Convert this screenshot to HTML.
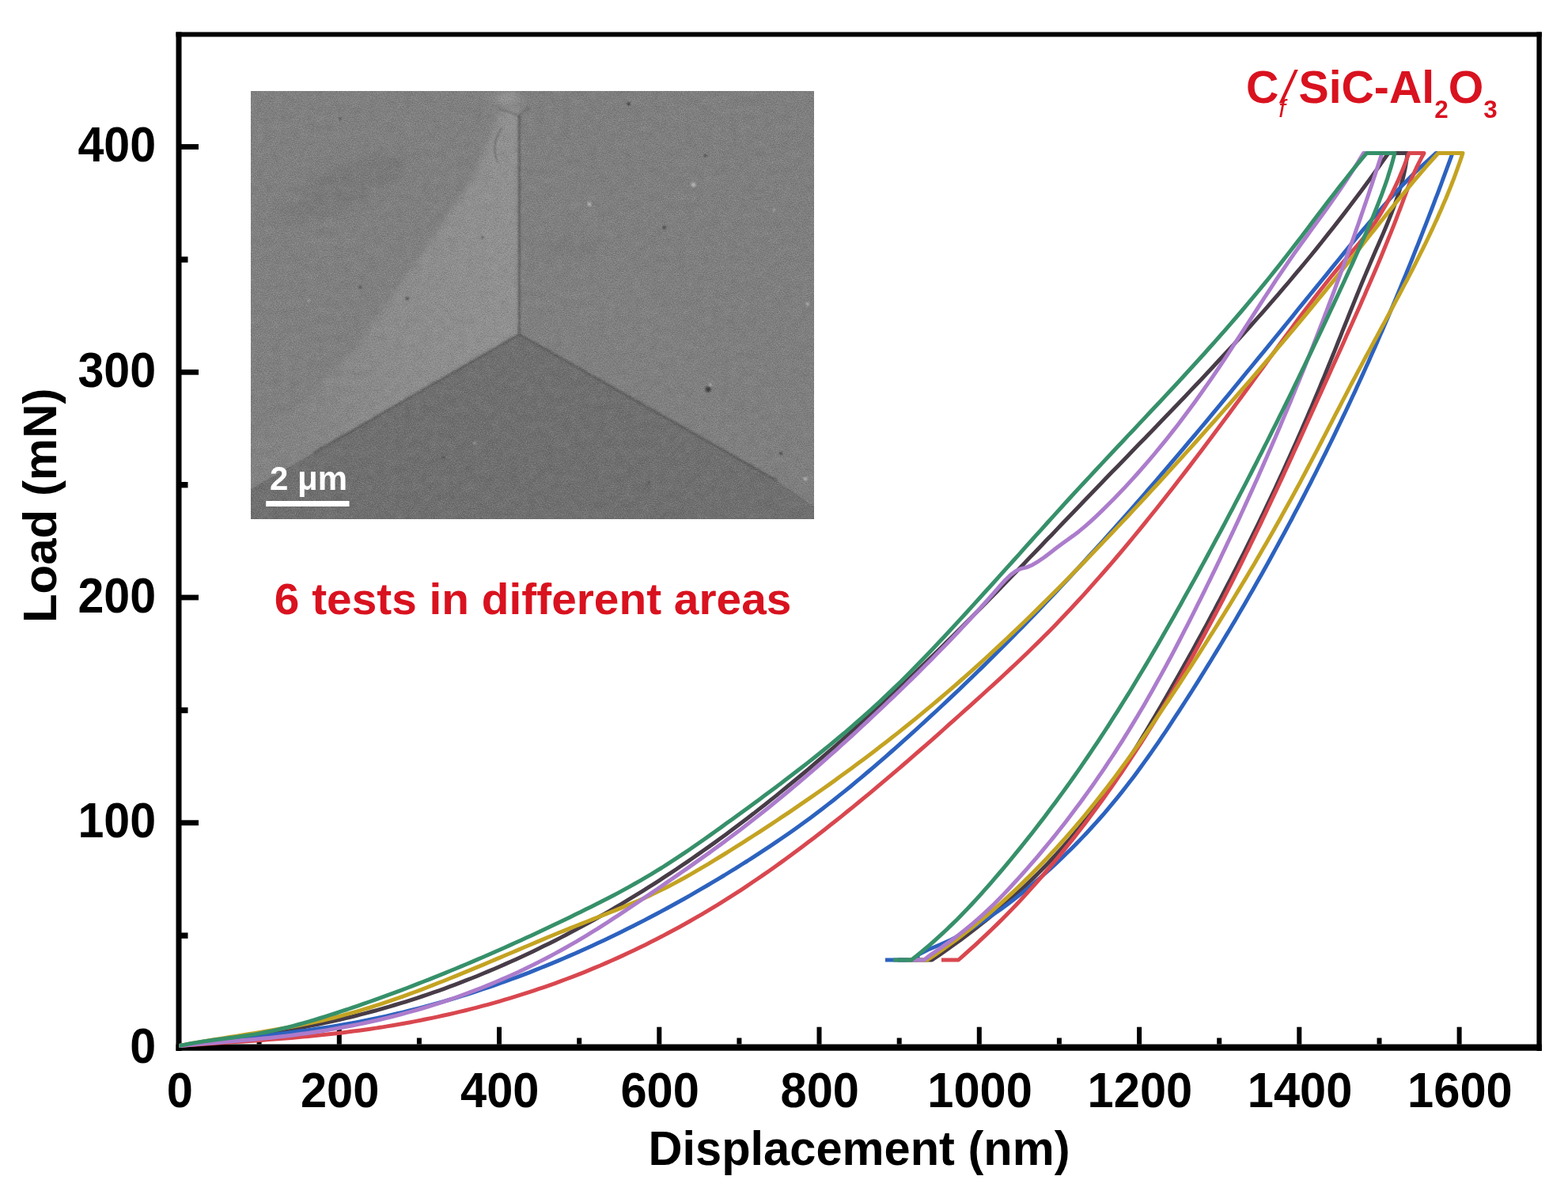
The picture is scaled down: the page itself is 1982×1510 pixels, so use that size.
<!DOCTYPE html>
<html><head><meta charset="utf-8"><title>Load-displacement curves</title>
<style>html,body{margin:0;padding:0;background:#fff;width:1982px;height:1510px;overflow:hidden}svg{display:block}</style>
</head><body>
<svg xmlns="http://www.w3.org/2000/svg" width="1982" height="1510" viewBox="0 0 1982 1510">
<rect width="100%" height="100%" fill="#fff"/>
<defs>
<filter id="noise" x="0" y="0" width="100%" height="100%"><feTurbulence type="fractalNoise" baseFrequency="0.75" numOctaves="2" seed="7" result="n"/><feColorMatrix in="n" type="matrix" values="0 0 0 0 0  0 0 0 0 0  0 0 0 0 0  -2.2 0 0 0 1.1" result="dk"/><feColorMatrix in="n" type="matrix" values="0 0 0 0 1  0 0 0 0 1  0 0 0 0 1  2.2 0 0 0 -1.1" result="lt"/><feMerge><feMergeNode in="dk"/><feMergeNode in="lt"/></feMerge></filter>
<filter id="mottle" x="0" y="0" width="100%" height="100%"><feTurbulence type="fractalNoise" baseFrequency="0.09" numOctaves="3" seed="11" result="n"/><feColorMatrix in="n" type="matrix" values="0 0 0 0 0  0 0 0 0 0  0 0 0 0 0  -2.5 0 0 0 1.25" result="dk"/><feColorMatrix in="n" type="matrix" values="0 0 0 0 1  0 0 0 0 1  0 0 0 0 1  2.5 0 0 0 -1.25" result="lt"/><feMerge><feMergeNode in="dk"/><feMergeNode in="lt"/></feMerge></filter>
<filter id="blur1"><feGaussianBlur stdDeviation="0.8"/></filter>
<filter id="blur6"><feGaussianBlur stdDeviation="6"/></filter>
<filter id="blur4" x="-5%" y="-5%" width="110%" height="110%"><feGaussianBlur stdDeviation="4"/></filter>
<clipPath id="lclip"><rect x="317" y="115" width="339.4" height="541"/></clipPath>
<linearGradient id="lf" gradientUnits="userSpaceOnUse" x1="656.4" y1="0" x2="360" y2="0"><stop offset="0" stop-color="#929292"/><stop offset="0.55" stop-color="#8c8c8c"/><stop offset="1" stop-color="#838383"/></linearGradient>
<clipPath id="ic"><rect x="317" y="115" width="712" height="541"/></clipPath>
</defs>
<g clip-path="url(#ic)">
<rect x="317" y="115" width="712" height="541" fill="#808080"/>
<g filter="url(#blur6)" opacity="0.55"><ellipse cx="450" cy="225" rx="70" ry="22" fill="#747474" transform="rotate(-18 450 225)"/><ellipse cx="400" cy="262" rx="60" ry="12" fill="#767676" transform="rotate(-10 400 262)"/><ellipse cx="720" cy="312" rx="40" ry="12" fill="#787878"/></g>
<polygon points="656.4,115 1029,115 1029,656 981.5,607.0" fill="#7f7f7f"/>
<polygon points="656.4,133 656.4,422.5 397.0,572.0 317,618 317,556 371,519 451,438 545,304 600,222 628,150 640,133" fill="url(#lf)" filter="url(#blur4)" clip-path="url(#lclip)"/>
<polygon points="656.4,422.5 397.0,572.0 317,618 317,656 1029,656 1029,640 981.5,607.0" fill="#6f6f6f"/>
<ellipse cx="640" cy="124" rx="18" ry="7" fill="#9a9a9a" filter="url(#blur6)"/>
<g filter="url(#blur1)" fill="none" stroke-linecap="round">
<line x1="656.4" y1="146" x2="656.4" y2="422.5" stroke="#5f5f5f" stroke-width="2.6"/>
<line x1="656.4" y1="422.5" x2="397.0" y2="572.0" stroke="#5c5c5c" stroke-width="2.4"/>
<line x1="656.4" y1="422.5" x2="981.5" y2="607.0" stroke="#5a5a5a" stroke-width="2.6"/>
<path d="M656.4,146 L630,137 M656.4,146 L668,136 M634,163 Q620,182 629,205" stroke="#666" stroke-width="1.6"/>
</g>
<g filter="url(#blur1)">
<circle cx="895" cy="492" r="3.4" fill="#3a3a3a"/>
<circle cx="514.6" cy="377.2" r="1.8" fill="#3a3a3a"/>
<circle cx="794.7" cy="131.2" r="2.0" fill="#3a3a3a"/>
<circle cx="839.6" cy="287.4" r="1.8" fill="#3a3a3a"/>
<circle cx="891.6" cy="196.5" r="1.6" fill="#3a3a3a"/>
<circle cx="455.3" cy="362.8" r="1.6" fill="#3a3a3a"/>
<circle cx="987" cy="573" r="1.8" fill="#3a3a3a"/>
<circle cx="430" cy="150" r="1.3" fill="#3a3a3a"/>
<circle cx="610" cy="300" r="1.2" fill="#3a3a3a"/>
<circle cx="560" cy="578" r="1.3" fill="#3a3a3a"/>
<circle cx="820" cy="610" r="1.2" fill="#3a3a3a"/>
<circle cx="898" cy="486" r="1.8" fill="#b4b4b4"/>
<circle cx="876.5" cy="233.5" r="3.0" fill="#b4b4b4"/>
<circle cx="745" cy="258" r="2.6" fill="#b4b4b4"/>
<circle cx="978" cy="265" r="1.6" fill="#b4b4b4"/>
<circle cx="1021" cy="384" r="2.0" fill="#b4b4b4"/>
<circle cx="1018" cy="605" r="2.4" fill="#b4b4b4"/>
<circle cx="390" cy="380" r="1.4" fill="#b4b4b4"/>
<circle cx="600" cy="560" r="1.4" fill="#b4b4b4"/>
</g>
<rect x="317" y="115" width="712" height="541" filter="url(#mottle)" opacity="0.045"/>
<rect x="317" y="115" width="712" height="541" filter="url(#noise)" opacity="0.22"/>
</g>
<rect x="336.2" y="633" width="105.3" height="7" fill="#fff"/>
<text x="341" y="618.7" font-family="Liberation Sans, Arial, sans-serif" font-weight="bold" font-size="42" fill="#fff">2 μm</text>
<g fill="#000">
<rect x="222.5" y="40.5" width="7" height="1287.5"/>
<rect x="1942.4" y="40.5" width="6.4" height="1287.5"/>
<rect x="222.5" y="40.5" width="1726.3" height="6"/>
<rect x="222.5" y="1319.5" width="1726.3" height="8.2"/>
<rect x="324.6" y="1311.5" width="6" height="8"/>
<rect x="425.8" y="1297.7" width="6" height="22"/>
<rect x="526.9" y="1311.5" width="6" height="8"/>
<rect x="628.0" y="1297.7" width="6" height="22"/>
<rect x="729.2" y="1311.5" width="6" height="8"/>
<rect x="830.3" y="1297.7" width="6" height="22"/>
<rect x="931.4" y="1311.5" width="6" height="8"/>
<rect x="1032.5" y="1297.7" width="6" height="22"/>
<rect x="1133.7" y="1311.5" width="6" height="8"/>
<rect x="1234.8" y="1297.7" width="6" height="22"/>
<rect x="1335.9" y="1311.5" width="6" height="8"/>
<rect x="1437.1" y="1297.7" width="6" height="22"/>
<rect x="1538.2" y="1311.5" width="6" height="8"/>
<rect x="1639.3" y="1297.7" width="6" height="22"/>
<rect x="1740.5" y="1311.5" width="6" height="8"/>
<rect x="1841.6" y="1297.7" width="6" height="22"/>
<rect x="229" y="1178.5" width="8.5" height="7.4"/>
<rect x="229" y="1036.3" width="22" height="6.8"/>
<rect x="229" y="893.8" width="8.5" height="7.4"/>
<rect x="229" y="751.6" width="22" height="6.8"/>
<rect x="229" y="609.0" width="8.5" height="7.4"/>
<rect x="229" y="466.9" width="22" height="6.8"/>
<rect x="229" y="324.3" width="8.5" height="7.4"/>
<rect x="229" y="182.1" width="22" height="6.8"/>
</g>
<polyline points="226.5,1321.5 233.5,1320.4 240.5,1319.4 247.4,1318.4 254.4,1317.4 261.4,1316.4 268.4,1315.4 275.4,1314.5 282.3,1313.5 289.3,1312.6 296.3,1311.7 303.3,1310.7 310.3,1309.7 317.2,1308.8 324.2,1307.8 331.2,1306.7 338.2,1305.7 345.2,1304.6 352.1,1303.4 359.1,1302.3 366.1,1301.1 373.1,1299.8 380.0,1298.6 387.0,1297.3 394.0,1295.9 401.0,1294.5 408.0,1293.1 414.9,1291.6 421.9,1290.0 428.9,1288.5 435.9,1286.8 442.9,1285.2 449.8,1283.5 456.8,1281.7 463.8,1279.9 470.8,1278.0 477.8,1276.1 484.7,1274.1 491.7,1272.1 498.7,1270.0 505.7,1267.9 512.7,1265.8 519.6,1263.6 526.6,1261.3 533.6,1259.0 540.6,1256.6 547.6,1254.2 554.5,1251.8 561.5,1249.3 568.5,1246.7 575.5,1244.1 582.5,1241.4 589.4,1238.7 596.4,1236.0 603.4,1233.2 610.4,1230.3 617.3,1227.4 624.3,1224.5 631.3,1221.5 638.3,1218.4 645.3,1215.3 652.2,1212.2 659.2,1209.0 666.2,1205.7 673.2,1202.4 680.2,1199.0 687.1,1195.6 694.1,1192.2 701.1,1188.7 708.1,1185.1 715.1,1181.5 722.0,1177.8 729.0,1174.1 736.0,1170.4 743.0,1166.5 750.0,1162.7 756.9,1158.8 763.9,1154.8 770.9,1150.8 777.9,1146.7 784.9,1142.6 791.8,1138.4 798.8,1134.2 805.8,1129.9 812.8,1125.6 819.8,1121.2 826.7,1116.8 833.7,1112.3 840.7,1107.7 847.7,1103.2 854.7,1098.5 861.6,1093.8 868.6,1089.1 875.6,1084.3 882.6,1079.4 889.5,1074.5 896.5,1069.6 903.5,1064.6 910.5,1059.5 917.5,1054.4 924.4,1049.2 931.4,1044.0 938.4,1038.8 945.4,1033.4 952.4,1028.1 959.3,1022.6 966.3,1017.2 973.3,1011.6 980.3,1006.1 987.3,1000.4 994.2,994.8 1001.2,989.0 1008.2,983.3 1015.2,977.5 1022.2,971.6 1029.1,965.7 1036.1,959.7 1043.1,953.7 1050.1,947.7 1057.1,941.6 1064.0,935.5 1071.0,929.3 1078.0,923.1 1085.0,916.8 1092.0,910.5 1098.9,904.2 1105.9,897.8 1112.9,891.4 1119.9,884.9 1126.8,878.4 1133.8,871.9 1140.8,865.3 1147.8,858.7 1154.8,852.0 1161.7,845.3 1168.7,838.6 1175.7,831.8 1182.7,825.0 1189.7,818.2 1196.6,811.4 1203.6,804.5 1210.6,797.5 1217.6,790.6 1224.6,783.6 1231.5,776.5 1238.5,769.5 1245.5,762.4 1252.5,755.3 1259.5,748.2 1266.4,741.0 1273.4,733.8 1280.4,726.6 1287.4,719.4 1294.4,712.2 1301.3,704.9 1308.3,697.7 1315.3,690.4 1322.3,683.1 1329.3,675.9 1336.2,668.6 1343.2,661.3 1350.2,654.0 1357.2,646.8 1364.2,639.5 1371.1,632.2 1378.1,625.0 1385.1,617.7 1392.1,610.5 1399.0,603.3 1406.0,596.1 1413.0,588.9 1420.0,581.7 1427.0,574.5 1433.9,567.3 1440.9,560.1 1447.9,552.9 1454.9,545.7 1461.9,538.5 1468.8,531.3 1475.8,524.0 1482.8,516.8 1489.8,509.5 1496.8,502.2 1503.7,494.9 1510.7,487.6 1517.7,480.2 1524.7,472.8 1531.7,465.3 1538.6,457.8 1545.6,450.3 1552.6,442.7 1559.6,435.1 1566.6,427.5 1573.5,419.8 1580.5,412.0 1587.5,404.2 1594.5,396.3 1601.5,388.4 1608.4,380.4 1615.4,372.3 1622.4,364.2 1629.4,356.0 1636.3,347.7 1643.3,339.4 1650.3,331.0 1657.3,322.5 1664.3,313.9 1671.2,305.2 1678.2,296.4 1685.2,287.6 1692.2,278.6 1699.2,269.6 1706.1,260.4 1713.1,251.2 1720.1,241.9 1727.1,232.4 1734.1,222.9 1741.0,213.2 1748.0,203.4 1755.0,193.5 1779.0,193.5 1779.0,193.5 1778.3,199.9 1777.3,206.3 1776.2,212.7 1774.8,219.1 1773.3,225.6 1771.6,232.0 1769.7,238.4 1767.7,244.8 1765.6,251.2 1763.3,257.6 1760.9,264.0 1758.5,270.4 1755.9,276.9 1753.3,283.3 1750.6,289.7 1747.9,296.1 1745.1,302.5 1742.3,308.9 1739.5,315.3 1736.7,321.7 1733.9,328.2 1731.2,334.6 1728.5,341.0 1725.8,347.4 1723.1,353.8 1720.4,360.2 1717.8,366.6 1715.2,373.0 1712.6,379.4 1710.0,385.9 1707.4,392.3 1704.8,398.7 1702.3,405.1 1699.7,411.5 1697.1,417.9 1694.6,424.3 1692.0,430.7 1689.5,437.2 1686.9,443.6 1684.3,450.0 1681.7,456.4 1679.1,462.8 1676.5,469.2 1673.9,475.6 1671.2,482.0 1668.6,488.4 1665.9,494.9 1663.2,501.3 1660.5,507.7 1657.8,514.1 1655.0,520.5 1652.3,526.9 1649.5,533.3 1646.7,539.7 1643.9,546.2 1641.1,552.6 1638.3,559.0 1635.4,565.4 1632.5,571.8 1629.6,578.2 1626.7,584.6 1623.8,591.0 1620.9,597.5 1617.9,603.9 1614.9,610.3 1612.0,616.7 1609.0,623.1 1605.9,629.5 1602.9,635.9 1599.8,642.3 1596.8,648.7 1593.7,655.2 1590.6,661.6 1587.4,668.0 1584.3,674.4 1581.1,680.8 1578.0,687.2 1574.8,693.6 1571.6,700.0 1568.3,706.5 1565.1,712.9 1561.8,719.3 1558.6,725.7 1555.3,732.1 1552.0,738.5 1548.6,744.9 1545.3,751.3 1541.9,757.8 1538.5,764.2 1535.2,770.6 1531.7,777.0 1528.3,783.4 1524.9,789.8 1521.4,796.2 1517.9,802.6 1514.4,809.0 1510.9,815.5 1507.4,821.9 1503.8,828.3 1500.2,834.7 1496.6,841.1 1493.0,847.5 1489.4,853.9 1485.8,860.3 1482.1,866.8 1478.4,873.2 1474.8,879.6 1471.0,886.0 1467.3,892.4 1463.6,898.8 1459.8,905.2 1456.0,911.6 1452.2,918.1 1448.4,924.5 1444.5,930.9 1440.6,937.3 1436.6,943.7 1432.6,950.1 1428.5,956.5 1424.4,962.9 1420.2,969.3 1416.0,975.8 1411.7,982.2 1407.3,988.6 1402.9,995.0 1398.4,1001.4 1393.7,1007.8 1389.0,1014.2 1384.2,1020.6 1379.4,1027.1 1374.4,1033.5 1369.3,1039.9 1364.1,1046.3 1358.8,1052.7 1353.4,1059.1 1347.8,1065.5 1342.2,1071.9 1336.4,1078.3 1330.4,1084.8 1324.4,1091.2 1318.2,1097.6 1311.8,1104.0 1305.3,1110.4 1298.7,1116.8 1291.9,1123.2 1284.9,1129.6 1277.8,1136.1 1270.5,1142.5 1263.0,1148.9 1255.4,1155.3 1247.6,1161.7 1239.6,1168.1 1231.4,1174.5 1223.0,1180.9 1214.4,1187.4 1205.6,1193.8 1196.6,1200.2 1187.4,1206.6 1178.0,1213.0 1135.0,1213.0" fill="none" stroke="#473c47" stroke-width="5" stroke-linejoin="round" stroke-linecap="butt"/>
<polyline points="226.5,1321.5 233.8,1320.5 241.0,1319.6 248.3,1318.6 255.5,1317.7 262.8,1316.9 270.0,1316.0 277.3,1315.1 284.5,1314.3 291.8,1313.5 299.0,1312.6 306.3,1311.8 313.5,1311.0 320.8,1310.2 328.0,1309.3 335.3,1308.5 342.6,1307.7 349.8,1306.8 357.1,1305.9 364.3,1305.0 371.6,1304.1 378.8,1303.1 386.1,1302.2 393.3,1301.1 400.6,1300.1 407.8,1299.0 415.1,1297.9 422.3,1296.7 429.6,1295.5 436.8,1294.3 444.1,1293.0 451.4,1291.6 458.6,1290.2 465.9,1288.8 473.1,1287.3 480.4,1285.7 487.6,1284.1 494.9,1282.5 502.1,1280.8 509.4,1279.1 516.6,1277.3 523.9,1275.5 531.1,1273.6 538.4,1271.7 545.7,1269.7 552.9,1267.7 560.2,1265.6 567.4,1263.5 574.7,1261.3 581.9,1259.1 589.2,1256.8 596.4,1254.5 603.7,1252.1 610.9,1249.7 618.2,1247.3 625.4,1244.8 632.7,1242.2 639.9,1239.6 647.2,1237.0 654.5,1234.3 661.7,1231.6 669.0,1228.8 676.2,1225.9 683.5,1223.0 690.7,1220.1 698.0,1217.1 705.2,1214.1 712.5,1211.0 719.7,1207.9 727.0,1204.8 734.2,1201.5 741.5,1198.3 748.7,1195.0 756.0,1191.6 763.3,1188.2 770.5,1184.8 777.8,1181.3 785.0,1177.7 792.3,1174.1 799.5,1170.5 806.8,1166.8 814.0,1163.1 821.3,1159.3 828.5,1155.5 835.8,1151.6 843.0,1147.7 850.3,1143.7 857.5,1139.7 864.8,1135.7 872.1,1131.6 879.3,1127.4 886.6,1123.2 893.8,1119.0 901.1,1114.7 908.3,1110.3 915.6,1106.0 922.8,1101.5 930.1,1097.1 937.3,1092.5 944.6,1088.0 951.8,1083.3 959.1,1078.6 966.3,1073.9 973.6,1069.1 980.9,1064.2 988.1,1059.3 995.4,1054.3 1002.6,1049.2 1009.9,1044.0 1017.1,1038.8 1024.4,1033.4 1031.6,1028.0 1038.9,1022.5 1046.1,1016.9 1053.4,1011.2 1060.6,1005.4 1067.9,999.6 1075.2,993.7 1082.4,987.7 1089.7,981.6 1096.9,975.5 1104.2,969.3 1111.4,963.1 1118.7,956.8 1125.9,950.5 1133.2,944.1 1140.4,937.6 1147.7,931.1 1154.9,924.6 1162.2,918.0 1169.4,911.4 1176.7,904.7 1184.0,898.0 1191.2,891.2 1198.5,884.4 1205.7,877.6 1213.0,870.7 1220.2,863.7 1227.5,856.7 1234.7,849.7 1242.0,842.6 1249.2,835.4 1256.5,828.3 1263.7,821.0 1271.0,813.8 1278.2,806.4 1285.5,799.1 1292.8,791.7 1300.0,784.2 1307.3,776.7 1314.5,769.2 1321.8,761.6 1329.0,754.0 1336.3,746.3 1343.5,738.6 1350.8,730.8 1358.0,723.0 1365.3,715.2 1372.5,707.3 1379.8,699.3 1387.0,691.4 1394.3,683.3 1401.6,675.3 1408.8,667.2 1416.1,659.0 1423.3,650.9 1430.6,642.6 1437.8,634.4 1445.1,626.1 1452.3,617.7 1459.6,609.3 1466.8,600.9 1474.1,592.4 1481.3,583.9 1488.6,575.4 1495.8,566.8 1503.1,558.2 1510.4,549.6 1517.6,541.0 1524.9,532.3 1532.1,523.6 1539.4,514.8 1546.6,506.1 1553.9,497.3 1561.1,488.5 1568.4,479.7 1575.6,470.8 1582.9,462.0 1590.1,453.1 1597.4,444.3 1604.7,435.4 1611.9,426.5 1619.2,417.6 1626.4,408.7 1633.7,399.8 1640.9,390.8 1648.2,381.9 1655.4,373.0 1662.7,364.1 1669.9,355.2 1677.2,346.3 1684.4,337.4 1691.7,328.5 1698.9,319.6 1706.2,310.7 1713.5,301.9 1720.7,293.2 1728.0,284.5 1735.2,276.0 1742.5,267.6 1749.7,259.3 1757.0,251.1 1764.2,243.2 1771.5,235.4 1778.7,227.9 1786.0,220.6 1793.2,213.5 1800.5,206.8 1807.7,200.3 1815.0,193.5 1836.0,193.5 1836.0,193.5 1833.7,199.9 1831.3,206.3 1829.0,212.7 1826.6,219.1 1824.2,225.6 1821.9,232.0 1819.5,238.4 1817.1,244.8 1814.6,251.2 1812.2,257.6 1809.8,264.0 1807.3,270.4 1804.8,276.9 1802.3,283.3 1799.8,289.7 1797.3,296.1 1794.8,302.5 1792.3,308.9 1789.7,315.3 1787.2,321.7 1784.6,328.2 1782.0,334.6 1779.4,341.0 1776.8,347.4 1774.1,353.8 1771.5,360.2 1768.8,366.6 1766.2,373.0 1763.5,379.4 1760.8,385.9 1758.0,392.3 1755.3,398.7 1752.6,405.1 1749.8,411.5 1747.0,417.9 1744.2,424.3 1741.4,430.7 1738.6,437.2 1735.8,443.6 1732.9,450.0 1730.1,456.4 1727.2,462.8 1724.3,469.2 1721.4,475.6 1718.5,482.0 1715.5,488.4 1712.6,494.9 1709.6,501.3 1706.6,507.7 1703.6,514.1 1700.6,520.5 1697.5,526.9 1694.5,533.3 1691.4,539.7 1688.3,546.2 1685.2,552.6 1682.1,559.0 1678.9,565.4 1675.8,571.8 1672.6,578.2 1669.4,584.6 1666.2,591.0 1663.0,597.5 1659.7,603.9 1656.5,610.3 1653.2,616.7 1649.9,623.1 1646.6,629.5 1643.3,635.9 1639.9,642.3 1636.5,648.7 1633.2,655.2 1629.7,661.6 1626.3,668.0 1622.9,674.4 1619.4,680.8 1615.9,687.2 1612.4,693.6 1608.9,700.0 1605.4,706.5 1601.8,712.9 1598.3,719.3 1594.7,725.7 1591.1,732.1 1587.4,738.5 1583.8,744.9 1580.1,751.3 1576.4,757.8 1572.7,764.2 1569.0,770.6 1565.2,777.0 1561.5,783.4 1557.7,789.8 1553.9,796.2 1550.0,802.6 1546.2,809.0 1542.3,815.5 1538.4,821.9 1534.5,828.3 1530.6,834.7 1526.6,841.1 1522.7,847.5 1518.7,853.9 1514.7,860.3 1510.6,866.8 1506.6,873.2 1502.5,879.6 1498.4,886.0 1494.3,892.4 1490.1,898.8 1485.9,905.2 1481.7,911.6 1477.5,918.1 1473.3,924.5 1468.9,930.9 1464.6,937.3 1460.2,943.7 1455.7,950.1 1451.2,956.5 1446.6,962.9 1442.0,969.3 1437.3,975.8 1432.5,982.2 1427.6,988.6 1422.6,995.0 1417.6,1001.4 1412.4,1007.8 1407.2,1014.2 1401.8,1020.6 1396.4,1027.1 1390.8,1033.5 1385.1,1039.9 1379.3,1046.3 1373.4,1052.7 1367.3,1059.1 1361.1,1065.5 1354.7,1071.9 1348.2,1078.3 1341.6,1084.8 1334.8,1091.2 1327.8,1097.6 1320.7,1104.0 1313.4,1110.4 1306.0,1116.8 1298.3,1123.2 1290.4,1129.6 1282.2,1136.1 1273.8,1142.5 1265.0,1148.9 1255.8,1155.3 1246.3,1161.7 1236.4,1168.1 1225.9,1174.5 1214.6,1180.9 1202.2,1187.4 1188.2,1193.8 1172.6,1200.2 1160.3,1206.6 1160.0,1213.0 1119.0,1213.0" fill="none" stroke="#2c62bf" stroke-width="5" stroke-linejoin="round" stroke-linecap="butt"/>
<polyline points="226.5,1321.5 233.6,1321.0 240.7,1320.5 247.8,1320.0 254.9,1319.5 262.0,1319.0 269.1,1318.5 276.2,1318.1 283.3,1317.6 290.4,1317.1 297.5,1316.6 304.6,1316.2 311.7,1315.7 318.8,1315.2 325.9,1314.7 333.0,1314.2 340.1,1313.6 347.2,1313.1 354.3,1312.5 361.4,1312.0 368.5,1311.4 375.6,1310.8 382.7,1310.1 389.8,1309.5 396.9,1308.8 404.0,1308.1 411.1,1307.3 418.2,1306.6 425.2,1305.8 432.3,1304.9 439.4,1304.1 446.5,1303.1 453.6,1302.2 460.7,1301.2 467.8,1300.2 474.9,1299.1 482.0,1298.1 489.1,1296.9 496.2,1295.7 503.3,1294.5 510.4,1293.3 517.5,1292.0 524.6,1290.6 531.7,1289.3 538.8,1287.8 545.9,1286.4 553.0,1284.9 560.1,1283.3 567.2,1281.7 574.3,1280.1 581.4,1278.4 588.5,1276.7 595.6,1274.9 602.7,1273.1 609.8,1271.2 616.9,1269.3 624.0,1267.3 631.1,1265.3 638.2,1263.2 645.3,1261.1 652.4,1258.9 659.5,1256.7 666.6,1254.4 673.7,1252.1 680.8,1249.7 687.9,1247.3 695.0,1244.8 702.1,1242.3 709.2,1239.7 716.3,1237.0 723.4,1234.3 730.5,1231.6 737.6,1228.8 744.7,1225.9 751.8,1222.9 758.9,1220.0 766.0,1216.9 773.1,1213.8 780.2,1210.6 787.3,1207.4 794.4,1204.1 801.5,1200.8 808.6,1197.3 815.6,1193.9 822.7,1190.3 829.8,1186.7 836.9,1183.1 844.0,1179.3 851.1,1175.5 858.2,1171.7 865.3,1167.8 872.4,1163.8 879.5,1159.7 886.6,1155.6 893.7,1151.4 900.8,1147.1 907.9,1142.8 915.0,1138.4 922.1,1133.9 929.2,1129.4 936.3,1124.8 943.4,1120.1 950.5,1115.3 957.6,1110.5 964.7,1105.6 971.8,1100.7 978.9,1095.7 986.0,1090.6 993.1,1085.4 1000.2,1080.2 1007.3,1075.0 1014.4,1069.7 1021.5,1064.3 1028.6,1058.9 1035.7,1053.4 1042.8,1047.9 1049.9,1042.3 1057.0,1036.7 1064.1,1031.1 1071.2,1025.3 1078.3,1019.6 1085.4,1013.8 1092.5,1007.9 1099.6,1002.1 1106.7,996.1 1113.8,990.2 1120.9,984.2 1128.0,978.1 1135.1,972.1 1142.2,966.0 1149.3,959.9 1156.4,953.7 1163.5,947.5 1170.6,941.3 1177.7,935.1 1184.8,928.8 1191.9,922.5 1198.9,916.2 1206.0,909.9 1213.1,903.5 1220.2,897.2 1227.3,890.8 1234.4,884.4 1241.5,878.0 1248.6,871.5 1255.7,865.1 1262.8,858.6 1269.9,852.0 1277.0,845.4 1284.1,838.7 1291.2,832.0 1298.3,825.2 1305.4,818.3 1312.5,811.4 1319.6,804.3 1326.7,797.2 1333.8,789.9 1340.9,782.5 1348.0,775.1 1355.1,767.5 1362.2,759.8 1369.3,752.1 1376.4,744.2 1383.5,736.2 1390.6,728.2 1397.7,720.0 1404.8,711.8 1411.9,703.5 1419.0,695.1 1426.1,686.6 1433.2,678.0 1440.3,669.4 1447.4,660.6 1454.5,651.8 1461.6,643.0 1468.7,634.0 1475.8,625.0 1482.9,616.0 1490.0,606.8 1497.1,597.6 1504.2,588.4 1511.3,579.1 1518.4,569.7 1525.5,560.3 1532.6,550.8 1539.7,541.3 1546.8,531.8 1553.9,522.2 1561.0,512.6 1568.1,503.0 1575.2,493.3 1582.3,483.6 1589.3,473.9 1596.4,464.2 1603.5,454.4 1610.6,444.7 1617.7,435.0 1624.8,425.3 1631.9,415.7 1639.0,406.1 1646.1,396.6 1653.2,387.2 1660.3,377.9 1667.4,368.7 1674.5,359.7 1681.6,350.8 1688.7,342.1 1695.8,333.5 1702.9,325.2 1710.0,316.9 1717.1,308.5 1724.2,299.8 1731.3,290.6 1738.4,280.6 1745.5,269.6 1752.6,257.5 1759.7,244.1 1766.8,229.1 1773.9,212.3 1781.0,193.5 1800.0,193.5 1800.0,193.5 1796.5,199.9 1793.2,206.3 1790.1,212.7 1787.2,219.1 1784.4,225.6 1781.8,232.0 1779.3,238.4 1776.9,244.8 1774.5,251.2 1772.1,257.6 1769.7,264.0 1767.2,270.4 1764.8,276.9 1762.3,283.3 1759.8,289.7 1757.2,296.1 1754.6,302.5 1752.0,308.9 1749.4,315.3 1746.8,321.7 1744.1,328.2 1741.4,334.6 1738.7,341.0 1735.9,347.4 1733.2,353.8 1730.4,360.2 1727.6,366.6 1724.9,373.0 1722.0,379.4 1719.2,385.9 1716.4,392.3 1713.5,398.7 1710.7,405.1 1707.8,411.5 1704.9,417.9 1702.0,424.3 1699.2,430.7 1696.3,437.2 1693.4,443.6 1690.5,450.0 1687.6,456.4 1684.7,462.8 1681.8,469.2 1678.9,475.6 1676.0,482.0 1673.1,488.4 1670.2,494.9 1667.3,501.3 1664.4,507.7 1661.5,514.1 1658.6,520.5 1655.7,526.9 1652.8,533.3 1649.9,539.7 1647.0,546.2 1644.1,552.6 1641.2,559.0 1638.2,565.4 1635.3,571.8 1632.4,578.2 1629.4,584.6 1626.5,591.0 1623.5,597.5 1620.6,603.9 1617.6,610.3 1614.6,616.7 1611.6,623.1 1608.6,629.5 1605.6,635.9 1602.6,642.3 1599.6,648.7 1596.5,655.2 1593.5,661.6 1590.4,668.0 1587.3,674.4 1584.2,680.8 1581.1,687.2 1578.0,693.6 1574.8,700.0 1571.7,706.5 1568.5,712.9 1565.3,719.3 1562.1,725.7 1558.9,732.1 1555.6,738.5 1552.4,744.9 1549.1,751.3 1545.8,757.8 1542.5,764.2 1539.1,770.6 1535.7,777.0 1532.4,783.4 1528.9,789.8 1525.5,796.2 1522.1,802.6 1518.6,809.0 1515.1,815.5 1511.5,821.9 1508.0,828.3 1504.4,834.7 1500.8,841.1 1497.2,847.5 1493.5,853.9 1489.8,860.3 1486.1,866.8 1482.4,873.2 1478.6,879.6 1474.8,886.0 1471.0,892.4 1467.1,898.8 1463.2,905.2 1459.3,911.6 1455.3,918.1 1451.3,924.5 1447.3,930.9 1443.2,937.3 1439.1,943.7 1434.9,950.1 1430.7,956.5 1426.5,962.9 1422.2,969.3 1417.9,975.8 1413.5,982.2 1409.1,988.6 1404.6,995.0 1400.1,1001.4 1395.6,1007.8 1390.9,1014.2 1386.3,1020.6 1381.5,1027.1 1376.7,1033.5 1371.9,1039.9 1367.0,1046.3 1362.0,1052.7 1357.0,1059.1 1351.9,1065.5 1346.7,1071.9 1341.5,1078.3 1336.2,1084.8 1330.9,1091.2 1325.4,1097.6 1319.9,1104.0 1314.4,1110.4 1308.7,1116.8 1303.0,1123.2 1297.2,1129.6 1291.3,1136.1 1285.3,1142.5 1279.2,1148.9 1273.0,1155.3 1266.6,1161.7 1260.1,1168.1 1253.5,1174.5 1246.8,1180.9 1239.9,1187.4 1233.0,1193.8 1225.9,1200.2 1218.7,1206.6 1211.5,1213.0 1190.0,1213.0" fill="none" stroke="#d9474f" stroke-width="5" stroke-linejoin="round" stroke-linecap="butt"/>
<polyline points="226.5,1321.5 233.8,1320.1 241.0,1318.8 248.3,1317.5 255.6,1316.3 262.8,1315.0 270.1,1313.8 277.4,1312.6 284.6,1311.5 291.9,1310.3 299.2,1309.1 306.4,1308.0 313.7,1306.8 321.0,1305.6 328.2,1304.4 335.5,1303.2 342.8,1302.0 350.0,1300.7 357.3,1299.4 364.6,1298.1 371.8,1296.8 379.1,1295.3 386.4,1293.9 393.6,1292.4 400.9,1290.8 408.2,1289.2 415.4,1287.5 422.7,1285.7 430.0,1283.9 437.2,1281.9 444.5,1279.9 451.8,1277.8 459.0,1275.7 466.3,1273.5 473.6,1271.2 480.8,1268.8 488.1,1266.4 495.4,1263.9 502.7,1261.4 509.9,1258.8 517.2,1256.2 524.5,1253.5 531.7,1250.8 539.0,1248.0 546.3,1245.2 553.5,1242.3 560.8,1239.5 568.1,1236.5 575.3,1233.6 582.6,1230.6 589.9,1227.6 597.1,1224.6 604.4,1221.6 611.7,1218.6 618.9,1215.5 626.2,1212.4 633.5,1209.4 640.7,1206.3 648.0,1203.2 655.3,1200.1 662.5,1197.0 669.8,1194.0 677.1,1190.9 684.3,1187.9 691.6,1184.8 698.9,1181.8 706.1,1178.8 713.4,1175.9 720.7,1172.9 727.9,1170.0 735.2,1167.1 742.5,1164.2 749.7,1161.4 757.0,1158.5 764.3,1155.7 771.5,1152.8 778.8,1149.9 786.1,1146.9 793.3,1143.9 800.6,1140.8 807.9,1137.7 815.1,1134.4 822.4,1131.1 829.7,1127.6 836.9,1124.1 844.2,1120.4 851.5,1116.6 858.7,1112.7 866.0,1108.7 873.3,1104.6 880.5,1100.4 887.8,1096.1 895.1,1091.8 902.3,1087.4 909.6,1083.0 916.9,1078.5 924.1,1074.0 931.4,1069.4 938.7,1064.8 945.9,1060.2 953.2,1055.5 960.5,1050.8 967.7,1046.1 975.0,1041.3 982.3,1036.5 989.5,1031.7 996.8,1026.8 1004.1,1021.9 1011.3,1016.9 1018.6,1011.9 1025.9,1006.9 1033.2,1001.8 1040.4,996.7 1047.7,991.6 1055.0,986.4 1062.2,981.1 1069.5,975.8 1076.8,970.5 1084.0,965.1 1091.3,959.7 1098.6,954.2 1105.8,948.7 1113.1,943.1 1120.4,937.5 1127.6,931.8 1134.9,926.1 1142.2,920.3 1149.4,914.5 1156.7,908.6 1164.0,902.6 1171.2,896.6 1178.5,890.6 1185.8,884.5 1193.0,878.3 1200.3,872.1 1207.6,865.8 1214.8,859.5 1222.1,853.1 1229.4,846.6 1236.6,840.1 1243.9,833.5 1251.2,826.8 1258.4,820.1 1265.7,813.3 1273.0,806.5 1280.2,799.6 1287.5,792.7 1294.8,785.7 1302.0,778.7 1309.3,771.6 1316.6,764.4 1323.8,757.3 1331.1,750.0 1338.4,742.7 1345.6,735.4 1352.9,728.0 1360.2,720.6 1367.4,713.2 1374.7,705.7 1382.0,698.1 1389.2,690.6 1396.5,682.9 1403.8,675.3 1411.0,667.6 1418.3,659.9 1425.6,652.2 1432.8,644.4 1440.1,636.6 1447.4,628.7 1454.6,620.9 1461.9,613.0 1469.2,605.1 1476.4,597.1 1483.7,589.1 1491.0,581.1 1498.2,573.1 1505.5,565.1 1512.8,557.0 1520.0,548.9 1527.3,540.7 1534.6,532.5 1541.8,524.3 1549.1,516.1 1556.4,507.8 1563.7,499.5 1570.9,491.2 1578.2,482.8 1585.5,474.4 1592.7,466.0 1600.0,457.5 1607.3,449.0 1614.5,440.4 1621.8,431.8 1629.1,423.2 1636.3,414.6 1643.6,405.9 1650.9,397.1 1658.1,388.3 1665.4,379.5 1672.7,370.6 1679.9,361.7 1687.2,352.8 1694.5,343.8 1701.7,334.8 1709.0,325.7 1716.3,316.6 1723.5,307.4 1730.8,298.3 1738.1,289.1 1745.3,280.0 1752.6,270.9 1759.9,261.9 1767.1,253.0 1774.4,244.1 1781.7,235.3 1788.9,226.6 1796.2,218.1 1803.5,209.7 1810.7,201.5 1818.0,193.5 1849.0,193.5 1849.0,193.5 1846.9,199.9 1844.7,206.3 1842.4,212.7 1840.1,219.1 1837.7,225.6 1835.2,232.0 1832.7,238.4 1830.1,244.8 1827.5,251.2 1824.7,257.6 1822.0,264.0 1819.1,270.4 1816.3,276.9 1813.3,283.3 1810.4,289.7 1807.3,296.1 1804.3,302.5 1801.2,308.9 1798.0,315.3 1794.8,321.7 1791.6,328.2 1788.4,334.6 1785.1,341.0 1781.8,347.4 1778.5,353.8 1775.1,360.2 1771.7,366.6 1768.3,373.0 1764.9,379.4 1761.5,385.9 1758.1,392.3 1754.6,398.7 1751.2,405.1 1747.7,411.5 1744.2,417.9 1740.8,424.3 1737.3,430.7 1733.9,437.2 1730.4,443.6 1726.9,450.0 1723.5,456.4 1720.1,462.8 1716.7,469.2 1713.3,475.6 1709.9,482.0 1706.5,488.4 1703.2,494.9 1699.8,501.3 1696.5,507.7 1693.2,514.1 1689.8,520.5 1686.5,526.9 1683.2,533.3 1679.9,539.7 1676.6,546.2 1673.2,552.6 1669.9,559.0 1666.6,565.4 1663.2,571.8 1659.9,578.2 1656.5,584.6 1653.1,591.0 1649.7,597.5 1646.3,603.9 1642.9,610.3 1639.4,616.7 1636.0,623.1 1632.5,629.5 1628.9,635.9 1625.4,642.3 1621.8,648.7 1618.3,655.2 1614.7,661.6 1611.1,668.0 1607.4,674.4 1603.8,680.8 1600.1,687.2 1596.4,693.6 1592.7,700.0 1588.9,706.5 1585.2,712.9 1581.4,719.3 1577.6,725.7 1573.8,732.1 1569.9,738.5 1566.1,744.9 1562.2,751.3 1558.3,757.8 1554.4,764.2 1550.4,770.6 1546.5,777.0 1542.5,783.4 1538.5,789.8 1534.5,796.2 1530.4,802.6 1526.4,809.0 1522.3,815.5 1518.2,821.9 1514.1,828.3 1510.0,834.7 1505.9,841.1 1501.7,847.5 1497.5,853.9 1493.3,860.3 1489.1,866.8 1484.9,873.2 1480.6,879.6 1476.3,886.0 1472.0,892.4 1467.7,898.8 1463.4,905.2 1459.1,911.6 1454.7,918.1 1450.3,924.5 1445.9,930.9 1441.4,937.3 1436.9,943.7 1432.4,950.1 1427.8,956.5 1423.2,962.9 1418.5,969.3 1413.8,975.8 1409.0,982.2 1404.2,988.6 1399.3,995.0 1394.3,1001.4 1389.3,1007.8 1384.2,1014.2 1379.1,1020.6 1373.9,1027.1 1368.6,1033.5 1363.2,1039.9 1357.7,1046.3 1352.2,1052.7 1346.5,1059.1 1340.8,1065.5 1335.0,1071.9 1329.1,1078.3 1323.1,1084.8 1316.9,1091.2 1310.7,1097.6 1304.4,1104.0 1297.9,1110.4 1291.4,1116.8 1284.7,1123.2 1277.9,1129.6 1270.9,1136.1 1263.8,1142.5 1256.5,1148.9 1249.0,1155.3 1241.4,1161.7 1233.5,1168.1 1225.5,1174.5 1217.2,1180.9 1208.7,1187.4 1199.9,1193.8 1190.9,1200.2 1181.6,1206.6 1172.0,1213.0 1146.0,1213.0" fill="none" stroke="#c4a322" stroke-width="5" stroke-linejoin="round" stroke-linecap="butt"/>
<polyline points="226.5,1321.5 233.2,1320.9 239.9,1320.3 246.6,1319.7 253.3,1319.1 260.0,1318.6 266.7,1318.0 273.3,1317.4 280.0,1316.9 286.7,1316.3 293.4,1315.8 300.1,1315.2 306.8,1314.6 313.5,1314.0 320.2,1313.4 326.9,1312.8 333.6,1312.1 340.3,1311.4 347.0,1310.7 353.6,1310.0 360.3,1309.2 367.0,1308.4 373.7,1307.5 380.4,1306.6 387.1,1305.7 393.8,1304.7 400.5,1303.7 407.2,1302.7 413.9,1301.6 420.6,1300.4 427.3,1299.3 433.9,1298.0 440.6,1296.8 447.3,1295.5 454.0,1294.1 460.7,1292.7 467.4,1291.3 474.1,1289.8 480.8,1288.2 487.5,1286.6 494.2,1285.0 500.9,1283.3 507.6,1281.5 514.2,1279.7 520.9,1277.9 527.6,1276.0 534.3,1274.0 541.0,1272.0 547.7,1269.9 554.4,1267.8 561.1,1265.6 567.8,1263.3 574.5,1261.0 581.2,1258.6 587.9,1256.2 594.6,1253.7 601.2,1251.2 607.9,1248.6 614.6,1245.9 621.3,1243.1 628.0,1240.3 634.7,1237.4 641.4,1234.5 648.1,1231.5 654.8,1228.4 661.5,1225.3 668.2,1222.0 674.9,1218.8 681.5,1215.4 688.2,1212.0 694.9,1208.5 701.6,1204.9 708.3,1201.2 715.0,1197.5 721.7,1193.7 728.4,1189.8 735.1,1185.9 741.8,1181.8 748.5,1177.7 755.2,1173.6 761.8,1169.3 768.5,1165.1 775.2,1160.7 781.9,1156.3 788.6,1151.9 795.3,1147.5 802.0,1143.0 808.7,1138.5 815.4,1133.9 822.1,1129.4 828.8,1124.8 835.5,1120.2 842.1,1115.6 848.8,1111.0 855.5,1106.4 862.2,1101.7 868.9,1097.1 875.6,1092.4 882.3,1087.6 889.0,1082.9 895.7,1078.1 902.4,1073.2 909.1,1068.4 915.8,1063.4 922.4,1058.5 929.1,1053.4 935.8,1048.4 942.5,1043.2 949.2,1038.1 955.9,1032.8 962.6,1027.5 969.3,1022.2 976.0,1016.8 982.7,1011.3 989.4,1005.8 996.1,1000.3 1002.8,994.7 1009.4,989.1 1016.1,983.4 1022.8,977.6 1029.5,971.8 1036.2,966.0 1042.9,960.1 1049.6,954.2 1056.3,948.3 1063.0,942.2 1069.7,936.2 1076.4,930.1 1083.1,924.0 1089.7,917.8 1096.4,911.6 1103.1,905.3 1109.8,899.0 1116.5,892.7 1123.2,886.3 1129.9,879.9 1136.6,873.5 1143.3,867.0 1150.0,860.4 1156.7,853.9 1163.4,847.2 1170.0,840.6 1176.7,833.9 1183.4,827.1 1190.1,820.3 1196.8,813.4 1203.5,806.4 1210.2,799.4 1216.9,792.3 1223.6,785.2 1230.3,777.9 1237.0,770.6 1243.7,763.3 1250.3,755.8 1257.0,748.3 1263.7,740.7 1270.4,733.3 1277.1,726.8 1283.8,721.7 1290.5,718.6 1297.8,716.9 1305.2,713.7 1312.5,709.3 1319.9,704.2 1327.2,698.7 1334.5,693.1 1341.9,687.6 1349.2,682.2 1356.6,676.9 1363.9,671.4 1371.2,665.4 1378.6,658.9 1385.9,652.1 1393.2,645.1 1400.6,637.8 1407.9,630.4 1415.3,622.8 1422.6,615.1 1429.9,607.1 1437.3,599.0 1444.6,590.7 1452.0,582.2 1459.3,573.5 1466.6,564.7 1474.0,555.6 1481.3,546.4 1488.7,537.0 1496.0,527.3 1503.3,517.5 1510.7,507.5 1518.0,497.3 1525.3,486.9 1532.7,476.4 1540.0,465.6 1547.4,454.6 1554.7,443.5 1562.0,432.2 1569.4,420.9 1576.7,409.5 1584.1,398.2 1591.4,386.8 1598.7,375.5 1606.1,364.3 1613.4,353.2 1620.8,342.3 1628.1,331.6 1635.4,321.1 1642.8,310.8 1650.1,300.7 1657.4,290.6 1664.8,280.5 1672.1,270.5 1679.5,260.3 1686.8,249.9 1694.1,239.3 1701.5,228.4 1708.8,217.2 1716.2,205.6 1723.5,193.5 1747.0,193.5 1747.0,193.5 1744.9,199.9 1742.8,206.3 1740.7,212.7 1738.6,219.1 1736.5,225.6 1734.4,232.0 1732.2,238.4 1730.1,244.8 1727.9,251.2 1725.7,257.6 1723.5,264.0 1721.3,270.4 1719.1,276.9 1716.9,283.3 1714.6,289.7 1712.4,296.1 1710.1,302.5 1707.8,308.9 1705.5,315.3 1703.2,321.7 1700.9,328.2 1698.6,334.6 1696.2,341.0 1693.9,347.4 1691.5,353.8 1689.1,360.2 1686.8,366.6 1684.4,373.0 1681.9,379.4 1679.5,385.9 1677.1,392.3 1674.6,398.7 1672.2,405.1 1669.7,411.5 1667.2,417.9 1664.7,424.3 1662.2,430.7 1659.7,437.2 1657.1,443.6 1654.6,450.0 1652.0,456.4 1649.5,462.8 1646.9,469.2 1644.3,475.6 1641.7,482.0 1639.0,488.4 1636.4,494.9 1633.7,501.3 1631.1,507.7 1628.4,514.1 1625.7,520.5 1623.0,526.9 1620.3,533.3 1617.6,539.7 1614.8,546.2 1612.1,552.6 1609.3,559.0 1606.5,565.4 1603.7,571.8 1600.9,578.2 1598.1,584.6 1595.3,591.0 1592.4,597.5 1589.6,603.9 1586.7,610.3 1583.8,616.7 1580.9,623.1 1578.0,629.5 1575.1,635.9 1572.2,642.3 1569.2,648.7 1566.3,655.2 1563.3,661.6 1560.3,668.0 1557.3,674.4 1554.3,680.8 1551.2,687.2 1548.2,693.6 1545.1,700.0 1542.1,706.5 1539.0,712.9 1535.9,719.3 1532.8,725.7 1529.7,732.1 1526.5,738.5 1523.4,744.9 1520.2,751.3 1517.0,757.8 1513.8,764.2 1510.6,770.6 1507.4,777.0 1504.2,783.4 1500.9,789.8 1497.6,796.2 1494.3,802.6 1491.0,809.0 1487.6,815.5 1484.3,821.9 1480.9,828.3 1477.4,834.7 1474.0,841.1 1470.5,847.5 1467.0,853.9 1463.4,860.3 1459.8,866.8 1456.2,873.2 1452.6,879.6 1448.9,886.0 1445.2,892.4 1441.4,898.8 1437.6,905.2 1433.7,911.6 1429.8,918.1 1425.9,924.5 1421.9,930.9 1417.9,937.3 1413.8,943.7 1409.7,950.1 1405.5,956.5 1401.2,962.9 1397.0,969.3 1392.6,975.8 1388.2,982.2 1383.8,988.6 1379.3,995.0 1374.7,1001.4 1370.1,1007.8 1365.4,1014.2 1360.6,1020.6 1355.8,1027.1 1350.9,1033.5 1346.0,1039.9 1341.0,1046.3 1335.9,1052.7 1330.8,1059.1 1325.5,1065.5 1320.2,1071.9 1314.9,1078.3 1309.4,1084.8 1303.9,1091.2 1298.3,1097.6 1292.6,1104.0 1286.9,1110.4 1281.0,1116.8 1275.1,1123.2 1269.0,1129.6 1262.8,1136.1 1256.4,1142.5 1249.7,1148.9 1242.8,1155.3 1235.7,1161.7 1228.2,1168.1 1220.5,1174.5 1212.3,1180.9 1203.8,1187.4 1194.9,1193.8 1185.6,1200.2 1176.3,1206.6 1168.0,1213.0 1150.0,1213.0" fill="none" stroke="#ac7ccc" stroke-width="5" stroke-linejoin="round" stroke-linecap="butt"/>
<polyline points="226.5,1321.5 233.4,1320.1 240.2,1318.8 247.1,1317.6 253.9,1316.5 260.8,1315.4 267.6,1314.5 274.5,1313.6 281.3,1312.7 288.2,1311.8 295.0,1310.9 301.9,1309.9 308.7,1309.0 315.6,1308.0 322.5,1306.9 329.3,1305.6 336.2,1304.3 343.0,1302.9 349.9,1301.4 356.7,1299.8 363.6,1298.1 370.4,1296.4 377.3,1294.5 384.1,1292.6 391.0,1290.7 397.8,1288.6 404.7,1286.5 411.6,1284.4 418.4,1282.2 425.3,1280.0 432.1,1277.7 439.0,1275.5 445.8,1273.1 452.7,1270.8 459.5,1268.4 466.4,1266.0 473.2,1263.6 480.1,1261.2 486.9,1258.7 493.8,1256.2 500.7,1253.6 507.5,1251.1 514.4,1248.5 521.2,1245.9 528.1,1243.2 534.9,1240.5 541.8,1237.9 548.6,1235.1 555.5,1232.4 562.3,1229.6 569.2,1226.8 576.0,1224.0 582.9,1221.1 589.8,1218.3 596.6,1215.4 603.5,1212.4 610.3,1209.5 617.2,1206.5 624.0,1203.5 630.9,1200.5 637.7,1197.5 644.6,1194.4 651.4,1191.3 658.3,1188.2 665.1,1185.1 672.0,1181.9 678.9,1178.7 685.7,1175.5 692.6,1172.3 699.4,1169.0 706.3,1165.8 713.1,1162.5 720.0,1159.2 726.8,1155.8 733.7,1152.5 740.5,1149.1 747.4,1145.7 754.2,1142.3 761.1,1138.8 768.0,1135.3 774.8,1131.7 781.7,1128.1 788.5,1124.4 795.4,1120.6 802.2,1116.8 809.1,1112.9 815.9,1108.9 822.8,1104.9 829.6,1100.7 836.5,1096.5 843.3,1092.1 850.2,1087.7 857.1,1083.2 863.9,1078.6 870.8,1074.0 877.6,1069.3 884.5,1064.5 891.3,1059.7 898.2,1054.9 905.0,1050.0 911.9,1045.1 918.7,1040.1 925.6,1035.2 932.4,1030.2 939.3,1025.2 946.2,1020.2 953.0,1015.2 959.9,1010.2 966.7,1005.1 973.6,1000.0 980.4,994.9 987.3,989.8 994.1,984.6 1001.0,979.3 1007.8,974.1 1014.7,968.8 1021.6,963.4 1028.4,958.0 1035.3,952.5 1042.1,947.0 1049.0,941.4 1055.8,935.8 1062.7,930.0 1069.5,924.3 1076.4,918.4 1083.2,912.4 1090.1,906.4 1096.9,900.3 1103.8,894.1 1110.7,887.8 1117.5,881.4 1124.4,874.9 1131.2,868.4 1138.1,861.7 1144.9,854.9 1151.8,848.0 1158.6,841.1 1165.5,834.0 1172.3,826.9 1179.2,819.7 1186.0,812.5 1192.9,805.2 1199.8,797.8 1206.6,790.4 1213.5,782.9 1220.3,775.5 1227.2,767.9 1234.0,760.4 1240.9,752.8 1247.7,745.3 1254.6,737.7 1261.4,730.1 1268.3,722.4 1275.1,714.8 1282.0,707.2 1288.9,699.6 1295.7,691.9 1302.6,684.3 1309.4,676.7 1316.3,669.1 1323.1,661.5 1330.0,653.9 1336.8,646.4 1343.7,638.8 1350.5,631.3 1357.4,623.8 1364.2,616.4 1371.1,609.0 1378.0,601.6 1384.8,594.2 1391.7,586.9 1398.5,579.6 1405.4,572.3 1412.2,565.0 1419.1,557.7 1425.9,550.4 1432.8,543.2 1439.6,535.9 1446.5,528.6 1453.3,521.3 1460.2,514.0 1467.1,506.7 1473.9,499.4 1480.8,492.0 1487.6,484.7 1494.5,477.2 1501.3,469.8 1508.2,462.3 1515.0,454.8 1521.9,447.2 1528.7,439.5 1535.6,431.9 1542.4,424.1 1549.3,416.3 1556.2,408.4 1563.0,400.5 1569.9,392.5 1576.7,384.4 1583.6,376.2 1590.4,368.0 1597.3,359.6 1604.1,351.2 1611.0,342.7 1617.8,334.1 1624.7,325.3 1631.5,316.5 1638.4,307.6 1645.3,298.7 1652.1,289.7 1659.0,280.6 1665.8,271.6 1672.7,262.6 1679.5,253.6 1686.4,244.7 1693.2,235.9 1700.1,227.2 1706.9,218.5 1713.8,210.0 1720.6,201.7 1727.5,193.5 1763.0,193.5 1763.0,193.5 1761.3,199.9 1759.6,206.3 1757.7,212.7 1755.7,219.1 1753.7,225.6 1751.5,232.0 1749.2,238.4 1746.9,244.8 1744.5,251.2 1742.0,257.6 1739.5,264.0 1736.9,270.4 1734.2,276.9 1731.5,283.3 1728.7,289.7 1726.0,296.1 1723.1,302.5 1720.3,308.9 1717.4,315.3 1714.5,321.7 1711.6,328.2 1708.7,334.6 1705.7,341.0 1702.8,347.4 1699.9,353.8 1696.9,360.2 1693.9,366.6 1691.0,373.0 1688.0,379.4 1685.0,385.9 1682.0,392.3 1679.0,398.7 1676.0,405.1 1673.0,411.5 1670.0,417.9 1666.9,424.3 1663.9,430.7 1660.8,437.2 1657.8,443.6 1654.7,450.0 1651.6,456.4 1648.5,462.8 1645.4,469.2 1642.3,475.6 1639.2,482.0 1636.1,488.4 1633.0,494.9 1629.8,501.3 1626.7,507.7 1623.5,514.1 1620.3,520.5 1617.1,526.9 1614.0,533.3 1610.8,539.7 1607.5,546.2 1604.3,552.6 1601.1,559.0 1597.8,565.4 1594.6,571.8 1591.3,578.2 1588.1,584.6 1584.8,591.0 1581.5,597.5 1578.2,603.9 1574.9,610.3 1571.6,616.7 1568.2,623.1 1564.9,629.5 1561.5,635.9 1558.2,642.3 1554.8,648.7 1551.4,655.2 1548.0,661.6 1544.6,668.0 1541.2,674.4 1537.7,680.8 1534.3,687.2 1530.8,693.6 1527.4,700.0 1523.9,706.5 1520.4,712.9 1516.9,719.3 1513.4,725.7 1509.9,732.1 1506.3,738.5 1502.8,744.9 1499.2,751.3 1495.6,757.8 1492.1,764.2 1488.5,770.6 1484.9,777.0 1481.2,783.4 1477.6,789.8 1473.9,796.2 1470.3,802.6 1466.6,809.0 1462.9,815.5 1459.1,821.9 1455.4,828.3 1451.6,834.7 1447.8,841.1 1444.0,847.5 1440.1,853.9 1436.3,860.3 1432.4,866.8 1428.5,873.2 1424.5,879.6 1420.5,886.0 1416.5,892.4 1412.5,898.8 1408.4,905.2 1404.3,911.6 1400.2,918.1 1396.0,924.5 1391.8,930.9 1387.6,937.3 1383.3,943.7 1379.0,950.1 1374.7,956.5 1370.3,962.9 1365.9,969.3 1361.4,975.8 1356.9,982.2 1352.4,988.6 1347.8,995.0 1343.2,1001.4 1338.5,1007.8 1333.8,1014.2 1329.0,1020.6 1324.2,1027.1 1319.4,1033.5 1314.4,1039.9 1309.5,1046.3 1304.5,1052.7 1299.4,1059.1 1294.3,1065.5 1289.2,1071.9 1283.9,1078.3 1278.7,1084.8 1273.4,1091.2 1268.0,1097.6 1262.5,1104.0 1257.0,1110.4 1251.5,1116.8 1245.9,1123.2 1240.2,1129.6 1234.3,1136.1 1228.4,1142.5 1222.4,1148.9 1216.2,1155.3 1209.9,1161.7 1203.3,1168.1 1196.7,1174.5 1189.8,1180.9 1182.7,1187.4 1175.4,1193.8 1167.9,1200.2 1160.1,1206.6 1152.0,1213.0 1129.0,1213.0" fill="none" stroke="#36906a" stroke-width="5" stroke-linejoin="round" stroke-linecap="butt"/>
<text transform="translate(227.3,1398.6) scale(1,1.05)" font-family="Liberation Sans, Arial, sans-serif" font-weight="bold" font-size="59.6" text-anchor="middle" fill="#000">0</text>
<text transform="translate(429.6,1398.6) scale(1,1.05)" font-family="Liberation Sans, Arial, sans-serif" font-weight="bold" font-size="59.6" text-anchor="middle" fill="#000">200</text>
<text transform="translate(631.8,1398.6) scale(1,1.05)" font-family="Liberation Sans, Arial, sans-serif" font-weight="bold" font-size="59.6" text-anchor="middle" fill="#000">400</text>
<text transform="translate(834.1,1398.6) scale(1,1.05)" font-family="Liberation Sans, Arial, sans-serif" font-weight="bold" font-size="59.6" text-anchor="middle" fill="#000">600</text>
<text transform="translate(1036.3,1398.6) scale(1,1.05)" font-family="Liberation Sans, Arial, sans-serif" font-weight="bold" font-size="59.6" text-anchor="middle" fill="#000">800</text>
<text transform="translate(1238.6,1398.6) scale(1,1.05)" font-family="Liberation Sans, Arial, sans-serif" font-weight="bold" font-size="59.6" text-anchor="middle" fill="#000">1000</text>
<text transform="translate(1440.9,1398.6) scale(1,1.05)" font-family="Liberation Sans, Arial, sans-serif" font-weight="bold" font-size="59.6" text-anchor="middle" fill="#000">1200</text>
<text transform="translate(1643.1,1398.6) scale(1,1.05)" font-family="Liberation Sans, Arial, sans-serif" font-weight="bold" font-size="59.6" text-anchor="middle" fill="#000">1400</text>
<text transform="translate(1845.4,1398.6) scale(1,1.05)" font-family="Liberation Sans, Arial, sans-serif" font-weight="bold" font-size="59.6" text-anchor="middle" fill="#000">1600</text>
<text transform="translate(197,1343.1) scale(0.985,1.05)" font-family="Liberation Sans, Arial, sans-serif" font-weight="bold" font-size="60" text-anchor="end" fill="#000">0</text>
<text transform="translate(197,1058.3) scale(0.985,1.05)" font-family="Liberation Sans, Arial, sans-serif" font-weight="bold" font-size="60" text-anchor="end" fill="#000">100</text>
<text transform="translate(197,773.6) scale(0.985,1.05)" font-family="Liberation Sans, Arial, sans-serif" font-weight="bold" font-size="60" text-anchor="end" fill="#000">200</text>
<text transform="translate(197,488.9) scale(0.985,1.05)" font-family="Liberation Sans, Arial, sans-serif" font-weight="bold" font-size="60" text-anchor="end" fill="#000">300</text>
<text transform="translate(197,204.1) scale(0.985,1.05)" font-family="Liberation Sans, Arial, sans-serif" font-weight="bold" font-size="60" text-anchor="end" fill="#000">400</text>
<text transform="translate(1086,1471.9) scale(1.005,1.025)" font-family="Liberation Sans, Arial, sans-serif" font-weight="bold" font-size="59.3" text-anchor="middle" fill="#000">Displacement (nm)</text>
<text transform="translate(71,638.8) rotate(-90)" font-family="Liberation Sans, Arial, sans-serif" font-weight="bold" font-size="60" text-anchor="middle" fill="#000">Load (mN)</text>
<text transform="translate(346.8,775.8) scale(1.033,1)" font-family="Liberation Sans, Arial, sans-serif" font-weight="bold" font-size="55" fill="#d9121f">6 tests in different areas</text>
<text transform="translate(1575,130) scale(1.013,1)" font-family="Liberation Sans, Arial, sans-serif" font-weight="bold" font-size="56.5" fill="#d9121f">C<tspan font-size="31" font-style="italic" font-weight="normal" dy="18">f</tspan><tspan dy="-18" font-style="italic" font-weight="normal" dx="-5">/</tspan><tspan dx="5.5">SiC-Al</tspan><tspan font-size="31" dy="18.5">2</tspan><tspan dy="-18.5">O</tspan><tspan font-size="31" dy="18.5">3</tspan></text>
</svg>
</body></html>
